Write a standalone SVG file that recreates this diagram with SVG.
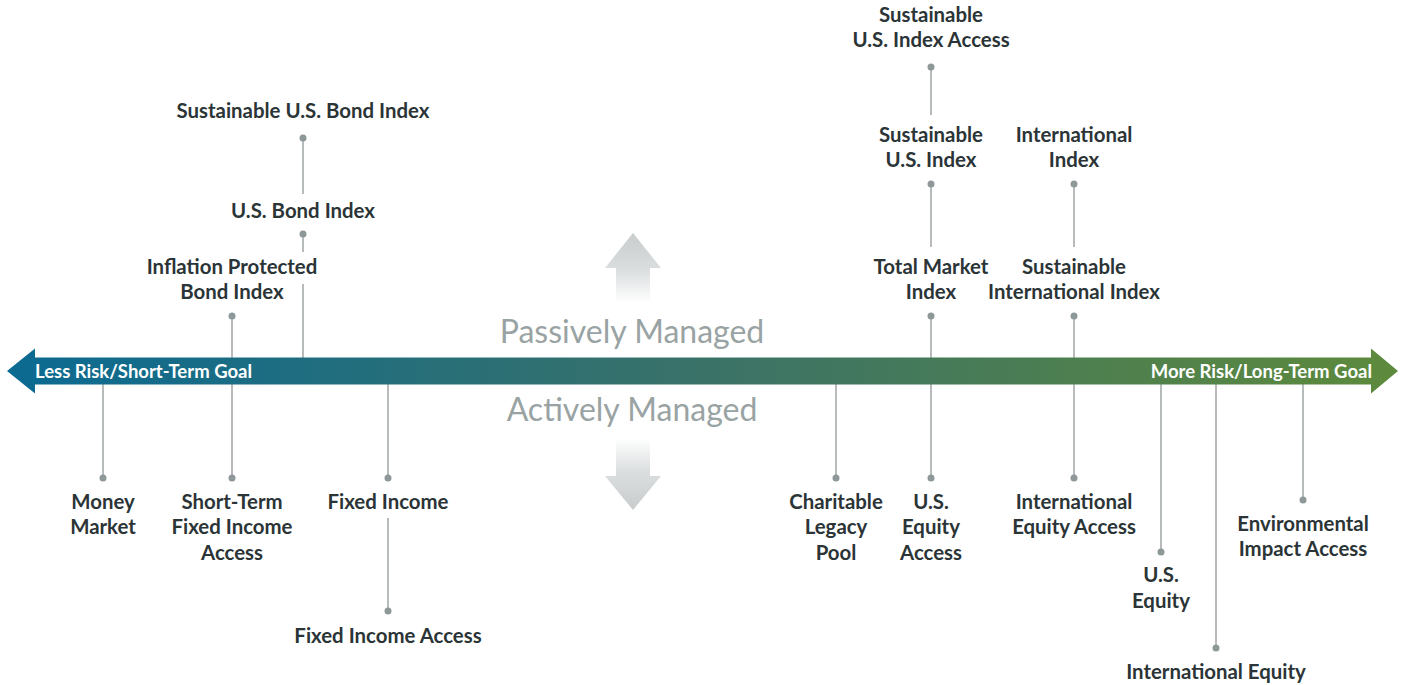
<svg xmlns="http://www.w3.org/2000/svg" width="1405" height="685" viewBox="0 0 1405 685">
<style>
.lbl{font-family:Lato,"Liberation Sans",sans-serif;font-weight:700;font-size:20.4px;fill:#2b3436;text-anchor:middle}
.band{font-family:Lato,"Liberation Sans",sans-serif;font-weight:700;font-size:18.5px;fill:#ffffff}
.mg{font-family:Lato,"Liberation Sans",sans-serif;font-weight:400;font-size:32px;fill:#99a3a3;text-anchor:middle}
.ln{stroke:#a5aaab;stroke-width:1.6;fill:none}
.dot{fill:#8f9898}
</style>
<defs>
<linearGradient id="bandg" x1="7" y1="0" x2="1398" y2="0" gradientUnits="userSpaceOnUse">
<stop offset="0" stop-color="#0b6a92"/>
<stop offset="0.5" stop-color="#3a7268"/>
<stop offset="1" stop-color="#5d8a3c"/>
</linearGradient>
<linearGradient id="upg" x1="0" y1="233" x2="0" y2="303" gradientUnits="userSpaceOnUse">
<stop offset="0" stop-color="#c9cccd"/>
<stop offset="0.55" stop-color="#dcdfe0"/>
<stop offset="1" stop-color="#ffffff"/>
</linearGradient>
<linearGradient id="dng" x1="0" y1="438" x2="0" y2="510" gradientUnits="userSpaceOnUse">
<stop offset="0" stop-color="#ffffff"/>
<stop offset="0.45" stop-color="#dcdfe0"/>
<stop offset="1" stop-color="#c9cccd"/>
</linearGradient>
</defs>

<g id="connectors">
<line class="ln" x1="303" y1="138" x2="303" y2="194"/>
<line class="ln" x1="303" y1="234" x2="303" y2="252"/>
<line class="ln" x1="303" y1="284" x2="303" y2="358"/>
<line class="ln" x1="232" y1="316" x2="232" y2="478"/>
<line class="ln" x1="103" y1="384" x2="103" y2="478"/>
<line class="ln" x1="388" y1="384" x2="388" y2="478"/>
<line class="ln" x1="388" y1="518" x2="388" y2="611"/>
<line class="ln" x1="836" y1="384" x2="836" y2="478"/>
<line class="ln" x1="931" y1="67" x2="931" y2="115"/>
<line class="ln" x1="931" y1="184" x2="931" y2="247"/>
<line class="ln" x1="931" y1="316" x2="931" y2="478"/>
<line class="ln" x1="1074" y1="184" x2="1074" y2="247"/>
<line class="ln" x1="1074" y1="316" x2="1074" y2="478"/>
<line class="ln" x1="1161" y1="384" x2="1161" y2="552"/>
<line class="ln" x1="1216" y1="384" x2="1216" y2="648"/>
<line class="ln" x1="1303" y1="384" x2="1303" y2="500"/>
</g>

<g id="axis">
<path d="M7,371 L35,348.5 L35,357.5 L1371,357.5 L1371,348.5 L1398,371 L1371,393.5 L1371,384.5 L35,384.5 L35,393.5 Z" fill="url(#bandg)"/>
<text class="band" x="35" y="377.5">Less Risk/Short-Term Goal</text>
<text class="band" x="1372" y="377.5" text-anchor="end">More Risk/Long-Term Goal</text>
</g>

<g id="management">
<path d="M633,233 L661,268 L650,268 L650,303 L616,303 L616,268 L605,268 Z" fill="url(#upg)"/>
<path d="M633,510 L661,476 L650,476 L650,438 L616,438 L616,476 L605,476 Z" fill="url(#dng)"/>
<text class="mg" x="632" y="343">Passively Managed</text>
<text class="mg" x="632" y="421">Actively Managed</text>
</g>

<g id="sustainable-us-bond-index"><text class="lbl" x="303" y="118">Sustainable U.S. Bond Index</text><circle class="dot" cx="303" cy="138" r="3.5"/></g>
<g id="us-bond-index"><text class="lbl" x="303" y="218">U.S. Bond Index</text><circle class="dot" cx="303" cy="234" r="3.5"/></g>
<g id="inflation-protected-bond-index"><text class="lbl" x="232" y="274">Inflation Protected</text><text class="lbl" x="232" y="299">Bond Index</text><circle class="dot" cx="232" cy="316" r="3.5"/></g>

<g id="sustainable-us-index-access"><text class="lbl" x="931" y="22">Sustainable</text><text class="lbl" x="931" y="47">U.S. Index Access</text><circle class="dot" cx="931" cy="67" r="3.5"/></g>
<g id="sustainable-us-index"><text class="lbl" x="931" y="142">Sustainable</text><text class="lbl" x="931" y="167">U.S. Index</text><circle class="dot" cx="931" cy="184" r="3.5"/></g>
<g id="international-index"><text class="lbl" x="1074" y="142">International</text><text class="lbl" x="1074" y="167">Index</text><circle class="dot" cx="1074" cy="184" r="3.5"/></g>
<g id="total-market-index"><text class="lbl" x="931" y="274">Total Market</text><text class="lbl" x="931" y="299">Index</text><circle class="dot" cx="931" cy="316" r="3.5"/></g>
<g id="sustainable-international-index"><text class="lbl" x="1074" y="274">Sustainable</text><text class="lbl" x="1074" y="299">International Index</text><circle class="dot" cx="1074" cy="316" r="3.5"/></g>

<g id="money-market"><circle class="dot" cx="103" cy="478" r="3.5"/><text class="lbl" x="103" y="509">Money</text><text class="lbl" x="103" y="534">Market</text></g>
<g id="short-term-fixed-income-access"><circle class="dot" cx="232" cy="478" r="3.5"/><text class="lbl" x="232" y="509">Short-Term</text><text class="lbl" x="232" y="534">Fixed Income</text><text class="lbl" x="232" y="560">Access</text></g>
<g id="fixed-income"><circle class="dot" cx="388" cy="478" r="3.5"/><text class="lbl" x="388" y="509">Fixed Income</text></g>
<g id="fixed-income-access"><circle class="dot" cx="388" cy="611" r="3.5"/><text class="lbl" x="388" y="643">Fixed Income Access</text></g>
<g id="charitable-legacy-pool"><circle class="dot" cx="836" cy="478" r="3.5"/><text class="lbl" x="836" y="509">Charitable</text><text class="lbl" x="836" y="534">Legacy</text><text class="lbl" x="836" y="560">Pool</text></g>
<g id="us-equity-access"><circle class="dot" cx="931" cy="478" r="3.5"/><text class="lbl" x="931" y="509">U.S.</text><text class="lbl" x="931" y="534">Equity</text><text class="lbl" x="931" y="560">Access</text></g>
<g id="international-equity-access"><circle class="dot" cx="1074" cy="478" r="3.5"/><text class="lbl" x="1074" y="509">International</text><text class="lbl" x="1074" y="534">Equity Access</text></g>
<g id="us-equity"><circle class="dot" cx="1161" cy="552" r="3.5"/><text class="lbl" x="1161" y="582">U.S.</text><text class="lbl" x="1161" y="608">Equity</text></g>
<g id="international-equity"><circle class="dot" cx="1216" cy="648" r="3.5"/><text class="lbl" x="1216" y="679">International Equity</text></g>
<g id="environmental-impact-access"><circle class="dot" cx="1303" cy="500" r="3.5"/><text class="lbl" x="1303" y="531">Environmental</text><text class="lbl" x="1303" y="556">Impact Access</text></g>
</svg>
